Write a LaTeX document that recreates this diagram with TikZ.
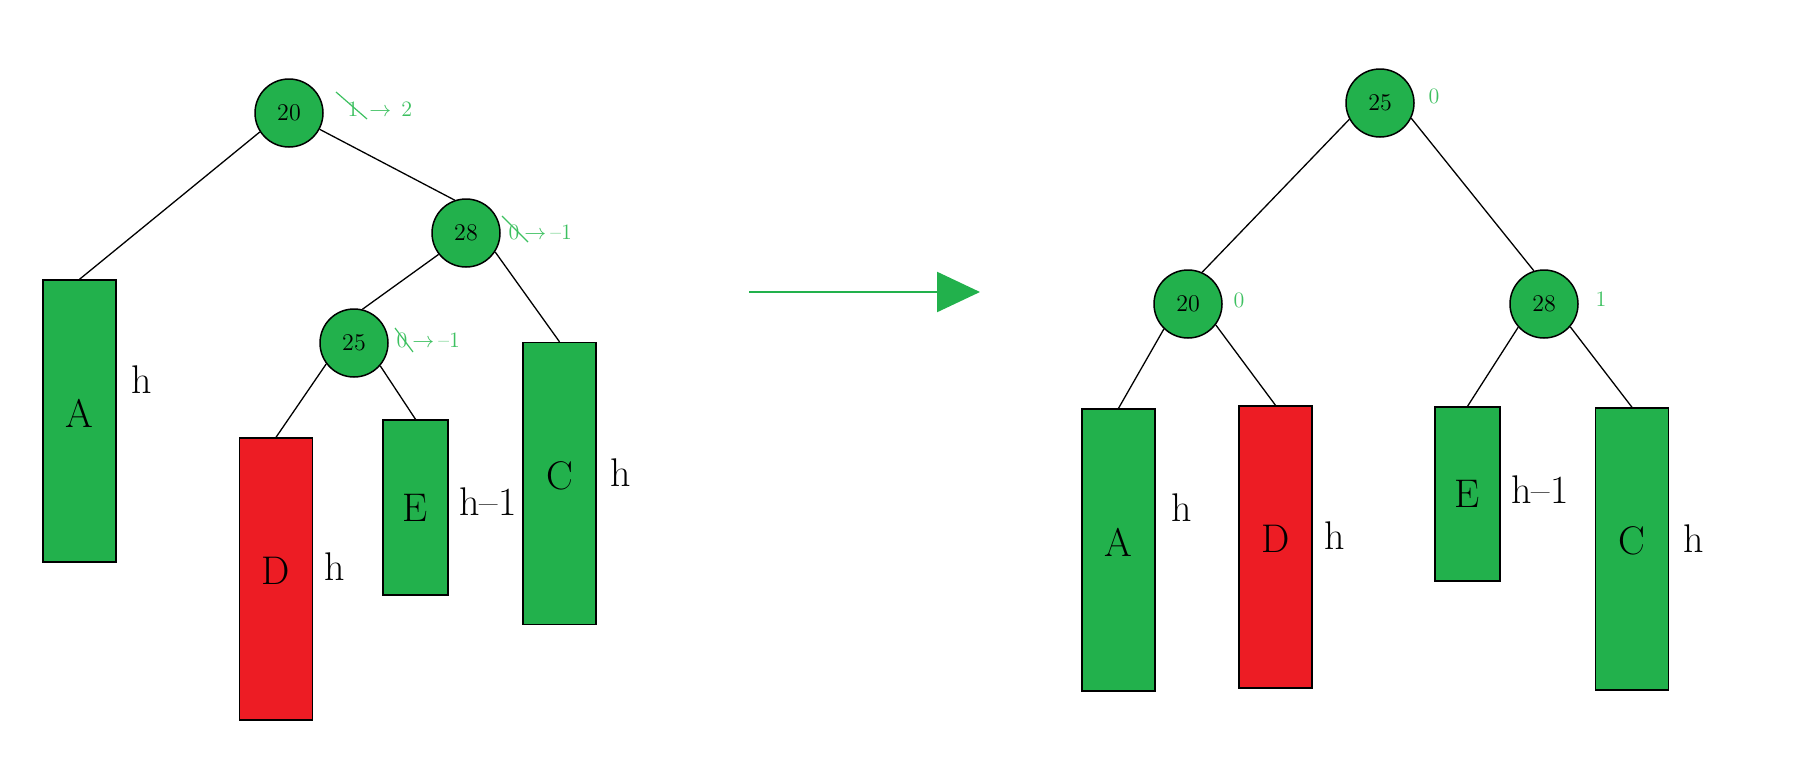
\documentclass[tikz,border=0pt]{standalone}
\usepackage{tikz}
\usetikzlibrary{arrows.meta, positioning}
\definecolor{mygreen}{HTML}{22B14C}
\definecolor{myred}{HTML}{ED1C24}
\definecolor{bfgreen}{HTML}{3DC060}
\tikzset{
	treenode/.style={circle, draw, line width=0.75pt, fill=mygreen, minimum size=34pt, inner sep=0pt, font=\fontsize{12}{14}\selectfont}
}
\tikzset{
	subtree/.style={draw, line width=0.7pt, fill=#1, minimum width=36.5pt, inner sep=0pt, font=\fontsize{20}{24}\selectfont}
}
\tikzset{
	tallbox/.style={minimum height=141pt, text depth=8pt}
}
\tikzset{
	heighttext/.style={font=\fontsize{20}{24}\selectfont, inner sep=0pt}
}
\tikzset{
	bftext/.style={font=\fontsize{11}{13}\selectfont\color{bfgreen}, inner sep=0pt}
}
\tikzset{
	edge/.style={line width=0.65pt}
}
\begin{document}
\begin{tikzpicture}[x=0.5pt, y=-0.5pt]

			\useasboundingbox (0,0) rectangle (1819,771);

			% before the rotation
			\begin{scope}
				\node[treenode] (l20) at (289,113) {20};
				\node[treenode] (l28) at (466,233) {28};
				\node[treenode] (l25) at (354,343) {25};

				\node[subtree=mygreen, tallbox] (lA) at (79.5,421) {A};
				\node[subtree=myred, tallbox] (lD) at (276,579) {D};
				\node[subtree=mygreen, minimum height=87.5pt, minimum width=32.5pt] (lE) at (415.5,507.5) {E};
				\node[subtree=mygreen, tallbox] (lC) at (559.5,483.5) {C};

				\draw[edge] (l20.-147) -- (lA.north);
				\draw[edge] (l20.-28) -- (l28.109);
				\draw[edge] (l28.-142) -- (l25.76);
				\draw[edge] (l28.-33) -- (lC.north);
				\draw[edge] (l25.-143) -- (lD.north);
				\draw[edge] (l25.-41) -- (lE.north);

				\node[heighttext] (hA) at (142,380) {h};
				\node[heighttext] (hD) at (335,567) {h};
				\node[heighttext] (hE) at (488,502) {h--1};
				\node[heighttext] (hC) at (621,473) {h};

				\node[bftext] (old20) at (353,109) {1};
				\draw[bfgreen, line width=0.6pt] (336,92) -- (367,119);
				\node[bftext, anchor=west] (new20) at (369,109) {$\rightarrow$\hspace{5pt}2};

				\node[bftext] (old28) at (514,232) {0};
				\draw[bfgreen, line width=0.6pt] (502,216) -- (528,242);
				\node[bftext, anchor=west] (new28) at (524,232) {$\rightarrow$\hspace{2pt}--1};

				\node[bftext] (old25) at (402,340) {0};
				\draw[bfgreen, line width=0.6pt] (395,328) -- (413,352);
				\node[bftext, anchor=west] (new25) at (412,340) {$\rightarrow$\hspace{2pt}--1};
			\end{scope}

			\coordinate (go) at (749,292);
			\coordinate (stop) at (980,292);
			\draw[mygreen, line width=1.2pt, -{Triangle[length=21.5pt, width=20pt]}] (go) -- (stop);

			% after the rotation
			\begin{scope}
				\node[treenode] (r25) at (1380,103) {25};
				\node[treenode] (r20) at (1188,304) {20};
				\node[treenode] (r28) at (1544,304) {28};

				\node[subtree=mygreen, tallbox] (rA) at (1118.5,550) {A};
				\node[subtree=myred, tallbox] (rD) at (1275.5,547) {D};
				\node[subtree=mygreen, minimum height=87pt, minimum width=32.5pt] (rE) at (1467.5,494) {E};
				\node[subtree=mygreen, tallbox] (rC) at (1632,549) {C};

				\draw[edge] (r25.-152) -- (r20.66);
				\draw[edge] (r25.-26) -- (r28.107);
				\draw[edge] (r20.-134) -- (rA.north);
				\draw[edge] (r20.-37) -- (rD.north);
				\draw[edge] (r28.-138) -- (rE.north);
				\draw[edge] (r28.-41) -- (rC.north);

				\node[heighttext] (hrA) at (1182,508) {h};
				\node[heighttext] (hrD) at (1335,536) {h};
				\node[heighttext] (hrE) at (1540,490) {h--1};
				\node[heighttext] (hrC) at (1694,539) {h};

				\node[bftext] (bf25) at (1434,96) {0};
				\node[bftext] (bf20) at (1239,300) {0};
				\node[bftext] (bf28) at (1601,299) {1};
			\end{scope}

		\end{tikzpicture}
\end{document}
